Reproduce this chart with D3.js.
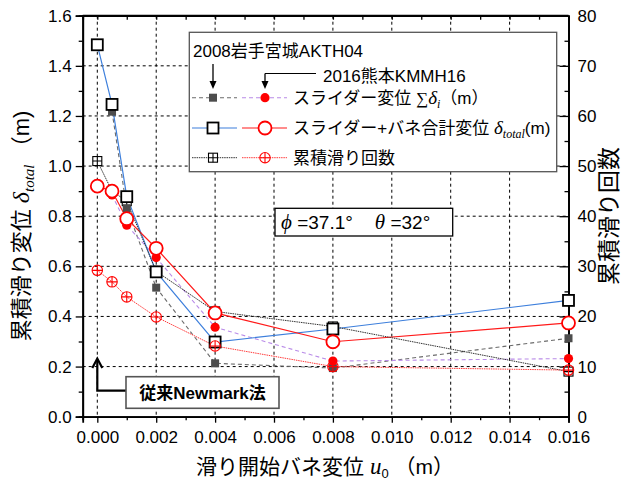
<!DOCTYPE html>
<html>
<head>
<meta charset="utf-8">
<script src="https://cdn.jsdelivr.net/npm/d3@7"></script>
<style>
  html, body { margin: 0; padding: 0; background: #fff; }
  svg { display: block; }
  text { font-family: "Liberation Sans", Arial, "Noto Sans CJK JP", sans-serif; }
</style>
</head>
<body>
<svg id="chart" width="622" height="485"></svg>
<script>
// Spring displacement at slip onset u0 (m)
const u0 = [0, 0.0005, 0.001, 0.002, 0.004, 0.008, 0.016];

// 2008 Iwate-Miyagi AKTH04
const akthSlider = [null, 1.217, 0.832, 0.515, 0.213, 0.194, 0.313];
const akthTotal  = [1.484, 1.246, 0.878, 0.578, 0.298, 0.350, 0.464];
const akthCount  = [51, 45, 43, 29, 21, 18, 9];

// 2016 Kumamoto KMMH16
const kmmhSlider = [null, 0.885, 0.764, 0.635, 0.357, 0.222, 0.232];
const kmmhTotal  = [0.920, 0.900, 0.790, 0.672, 0.414, 0.299, 0.374];
const kmmhCount  = [29.2, 26.9, 23.9, 19.9, 14.1, 10.0, 9.3];

const xTicks = [0, 0.002, 0.004, 0.006, 0.008, 0.010, 0.012, 0.014, 0.016];
const yTicks = [0, 0.2, 0.4, 0.6, 0.8, 1.0, 1.2, 1.4, 1.6];
const y2Ticks = [0, 10, 20, 30, 40, 50, 60, 70, 80];

const svg = d3.select("#chart");
const L = 82.7, R = 568.5, T = 15.7, B = 416.7;

const x = d3.scaleLinear().domain([-0.000496, 0.016]).range([L, R]);
const y = d3.scaleLinear().domain([0, 1.6]).range([B, T]);
const y2 = d3.scaleLinear().domain([0, 80]).range([B, T]);

// grid
const grid = svg.append("g").attr("stroke", "#000").attr("stroke-width", 1).attr("stroke-dasharray", "3,3");
xTicks.filter(d => d < 0.016).forEach(d => {
  grid.append("line").attr("x1", x(d)).attr("x2", x(d)).attr("y1", T).attr("y2", B);
});
yTicks.filter(d => d > 0 && d < 1.6).forEach(d => {
  grid.append("line").attr("x1", L).attr("x2", R).attr("y1", y(d)).attr("y2", y(d));
});

// axes
const fmtX = d3.format(".3f");
const axB = d3.axisBottom(x).tickValues(xTicks).tickFormat(fmtX).tickSize(6).tickPadding(8);
const gB = svg.append("g").attr("transform", `translate(0,${B})`).call(axB);
const axBm = d3.axisBottom(x).tickValues(d3.range(0, 0.0165, 0.001).filter((d, i) => i % 2 === 1)).tickFormat("").tickSize(3.5);
svg.append("g").attr("transform", `translate(0,${B})`).call(axBm);
const axT = d3.axisBottom(x).tickValues(d3.range(0, 0.0165, 0.001)).tickFormat("").tickSize(4);
svg.append("g").attr("transform", `translate(0,${T})`).call(axT);

const axL = d3.axisLeft(y).tickValues(yTicks).tickFormat(d3.format(".1f")).tickSize(7).tickPadding(4);
const gL = svg.append("g").attr("transform", `translate(${L},0)`).call(axL);
const axLm = d3.axisLeft(y).tickValues(d3.range(0.1, 1.6, 0.2)).tickFormat("").tickSize(4);
svg.append("g").attr("transform", `translate(${L},0)`).call(axLm);

const axR = d3.axisRight(y2).tickValues(y2Ticks).tickFormat(d3.format("d")).tickSizeInner(-9).tickSizeOuter(0).tickPadding(9);
const gR = svg.append("g").attr("transform", `translate(${R},0)`).call(axR);
const axRm = d3.axisRight(y2).tickValues(d3.range(5, 80, 10)).tickFormat("").tickSizeInner(-4).tickSizeOuter(0);
svg.append("g").attr("transform", `translate(${R},0)`).call(axRm);

svg.selectAll(".domain").attr("stroke", "#000").attr("stroke-width", 1.8);
svg.selectAll(".tick line").attr("stroke", "#000").attr("stroke-width", 1.3);
svg.selectAll(".tick text").attr("font-size", 17).attr("fill", "#000")
  .style("font-family", "'Liberation Sans', Arial, sans-serif");
gR.selectAll(".tick text").attr("x", 9);
// frame top
svg.append("line").attr("x1", L).attr("x2", R).attr("y1", T).attr("y2", T).attr("stroke", "#000").attr("stroke-width", 1.8);

// series lines
const line = (xs, ys, sc) => d3.line().defined((d, i) => ys[i] != null)
  .x((d, i) => x(xs[i])).y((d, i) => sc(ys[i]))(xs);

const lines = svg.append("g").attr("fill", "none");
lines.append("path").attr("d", line(u0, akthSlider, y)).attr("stroke", "#6b6b6b").attr("stroke-width", 1.1).attr("stroke-dasharray", "4,3");
lines.append("path").attr("d", line(u0, kmmhSlider, y)).attr("stroke", "#b98be8").attr("stroke-width", 1.1).attr("stroke-dasharray", "4,3");
lines.append("path").attr("d", line(u0, akthTotal, y)).attr("stroke", "#3d7fdc").attr("stroke-width", 1.2);
lines.append("path").attr("d", line(u0, kmmhTotal, y)).attr("stroke", "#ff1a1a").attr("stroke-width", 1.2);
lines.append("path").attr("d", line(u0, akthCount, y2)).attr("stroke", "#333").attr("stroke-width", 1.0).attr("stroke-dasharray", "1.5,0.8");
lines.append("path").attr("d", line(u0, kmmhCount, y2)).attr("stroke", "#ff3b3b").attr("stroke-width", 1.0).attr("stroke-dasharray", "1.5,0.8");

// marker painters
function openSquare(g, cx, cy, s = 11) {
  g.append("rect").attr("x", cx - s / 2).attr("y", cy - s / 2).attr("width", s).attr("height", s)
    .attr("fill", "#fff").attr("stroke", "#000").attr("stroke-width", 1.8);
}
function filledSquare(g, cx, cy, s = 8) {
  g.append("rect").attr("x", cx - s / 2).attr("y", cy - s / 2).attr("width", s).attr("height", s)
    .attr("fill", "#4d4d4d");
}
function openCircle(g, cx, cy, r = 6.5) {
  g.append("circle").attr("cx", cx).attr("cy", cy).attr("r", r)
    .attr("fill", "#fff").attr("stroke", "#ff0000").attr("stroke-width", 1.8);
}
function filledCircle(g, cx, cy, r = 4.6) {
  g.append("circle").attr("cx", cx).attr("cy", cy).attr("r", r).attr("fill", "#ff0000");
}
function crossSquare(g, cx, cy, s = 9) {
  g.append("rect").attr("x", cx - s / 2).attr("y", cy - s / 2).attr("width", s).attr("height", s)
    .attr("fill", "#fff").attr("stroke", "#000").attr("stroke-width", 1.1);
  g.append("path").attr("d", `M${cx - s / 2},${cy}H${cx + s / 2}M${cx},${cy - s / 2}V${cy + s / 2}`)
    .attr("stroke", "#000").attr("stroke-width", 1.1);
}
function crossCircle(g, cx, cy, r = 5.2) {
  g.append("circle").attr("cx", cx).attr("cy", cy).attr("r", r)
    .attr("fill", "none").attr("stroke", "#ff0000").attr("stroke-width", 1.1);
  g.append("path").attr("d", `M${cx - r},${cy}H${cx + r}M${cx},${cy - r}V${cy + r}`)
    .attr("stroke", "#ff0000").attr("stroke-width", 1.1);
}

const marks = svg.append("g");
function plot(ys, sc, painter) {
  ys.forEach((v, i) => { if (v != null) painter(marks, x(u0[i]), sc(v)); });
}
plot(akthCount, y2, crossSquare);
plot(akthSlider, y, filledSquare);
plot(kmmhSlider, y, filledCircle);
plot(akthTotal, y, openSquare);
plot(kmmhTotal, y, openCircle);
plot(kmmhCount, y2, crossCircle);

// legend
const lg = svg.append("g");
lg.append("rect").attr("x", 189.3).attr("y", 32.3).attr("width", 367.4).attr("height", 139.4)
  .attr("fill", "#fff").attr("stroke", "#555").attr("stroke-width", 1.3);
lg.append("text").attr("x", 193).attr("y", 57).attr("font-size", 17).text("2008岩手宮城AKTH04");
lg.append("text").attr("x", 323).attr("y", 81.5).attr("font-size", 17).text("2016熊本KMMH16");
function arrowDown(g, ax, y1, y2v) {
  g.append("line").attr("x1", ax).attr("x2", ax).attr("y1", y1).attr("y2", y2v - 2).attr("stroke", "#000").attr("stroke-width", 1.3);
  g.append("path").attr("d", `M${ax - 3.5},${y2v - 8}L${ax},${y2v}L${ax + 3.5},${y2v - 8}Z`).attr("fill", "#000");
}
arrowDown(lg, 213, 64, 89);
lg.append("line").attr("x1", 265).attr("x2", 316).attr("y1", 73.5).attr("y2", 73.5).attr("stroke", "#000").attr("stroke-width", 1.1);
arrowDown(lg, 265, 73.5, 89);

const rows = [97.7, 128, 157.7];
const lx1 = [192, 237], lx2 = [242, 287];
function legLine(yv, xs, color, dash, w) {
  const l = lg.append("line").attr("x1", xs[0]).attr("x2", xs[1]).attr("y1", yv).attr("y2", yv)
    .attr("stroke", color).attr("stroke-width", w);
  if (dash) l.attr("stroke-dasharray", dash);
}
legLine(rows[0], lx1, "#6b6b6b", "4,3", 1.1);
legLine(rows[0], lx2, "#b98be8", "4,3", 1.1);
filledSquare(lg, 213, rows[0]);
filledCircle(lg, 265, rows[0]);
legLine(rows[1], lx1, "#3d7fdc", null, 1.2);
legLine(rows[1], lx2, "#ff1a1a", null, 1.2);
openSquare(lg, 213, rows[1]);
openCircle(lg, 265, rows[1]);
legLine(rows[2], lx1, "#333", "1.5,0.8", 1.0);
legLine(rows[2], lx2, "#ff3b3b", "1.5,0.8", 1.0);
crossSquare(lg, 213, rows[2]);
crossCircle(lg, 265, rows[2]);

const serif = "'Liberation Serif', 'Times New Roman', serif";
const t1 = lg.append("text").attr("x", 293).attr("y", rows[0] + 6).attr("font-size", 17);
t1.append("tspan").text("スライダー変位 ");
t1.append("tspan").style("font-family", serif).text("∑");
t1.append("tspan").style("font-family", serif).attr("font-style", "italic").attr("font-size", 19).text("δ");
t1.append("tspan").style("font-family", serif).attr("font-style", "italic").attr("font-size", 12).attr("dy", 4).text("i");
t1.append("tspan").attr("dy", -4).text("（m）");

const t2 = lg.append("text").attr("x", 293).attr("y", rows[1] + 6).attr("font-size", 17);
t2.append("tspan").text("スライダー+バネ合計変位 ");
t2.append("tspan").style("font-family", serif).attr("font-style", "italic").attr("font-size", 19).text("δ");
t2.append("tspan").style("font-family", serif).attr("font-style", "italic").attr("font-size", 12).attr("dy", 4).text("total");
t2.append("tspan").attr("dy", -4).text("(m)");

lg.append("text").attr("x", 293).attr("y", rows[2] + 6).attr("font-size", 17).text("累積滑り回数");

// friction / slope annotation
const pg = svg.append("g");
pg.append("rect").attr("x", 275).attr("y", 208.3).attr("width", 177.7).attr("height", 27.7)
  .attr("fill", "#fff").attr("stroke", "#000").attr("stroke-width", 1.3);
const pt = pg.append("text").attr("x", 281).attr("y", 229).attr("font-size", 19);
pt.append("tspan").style("font-family", serif).attr("font-style", "italic").attr("font-size", 21).text("ϕ");
pt.append("tspan").text(" =37.1°");
pt.append("tspan").attr("dx", 22).style("font-family", serif).attr("font-style", "italic").attr("font-size", 21).text("θ");
pt.append("tspan").text(" =32°");

// conventional Newmark callout
const ng = svg.append("g");
ng.append("path").attr("d", `M126,390.7H${x(0)}V360`).attr("fill", "none").attr("stroke", "#000").attr("stroke-width", 2.2);
ng.append("path").attr("d", `M${x(0) - 5},368L${x(0)},358.5L${x(0) + 5},368`).attr("fill", "none").attr("stroke", "#000").attr("stroke-width", 2.2);
ng.append("rect").attr("x", 126).attr("y", 376.7).attr("width", 153).attr("height", 31.6)
  .attr("fill", "#fff").attr("stroke", "#555").attr("stroke-width", 1.6);
ng.append("text").attr("x", 202.5).attr("y", 399).attr("text-anchor", "middle").attr("font-size", 17)
  .attr("font-weight", "bold").text("従来Newmark法");

// axis titles
const yt = svg.append("text").attr("transform", "translate(29,226) rotate(-90)").attr("text-anchor", "middle").attr("font-size", 22);
yt.append("tspan").text("累積滑り変位 ");
yt.append("tspan").style("font-family", serif).attr("font-style", "italic").attr("font-size", 24).text("δ");
yt.append("tspan").style("font-family", serif).attr("font-style", "italic").attr("font-size", 15).attr("dy", 5).text("total");
yt.append("tspan").attr("dy", -5).text(" （m)");

svg.append("text").attr("transform", "translate(617,216) rotate(-90)").attr("text-anchor", "middle")
  .attr("font-size", 23).text("累積滑り回数");

const xt = svg.append("text").attr("x", 325).attr("y", 474).attr("text-anchor", "middle").attr("font-size", 21);
xt.append("tspan").text("滑り開始バネ変位 ");
xt.append("tspan").style("font-family", serif).attr("font-style", "italic").attr("font-size", 23).text("u");
xt.append("tspan").attr("font-size", 13).attr("dy", 4).text("0");
xt.append("tspan").attr("dy", -4).text(" （m）");
</script>
</body>
</html>
